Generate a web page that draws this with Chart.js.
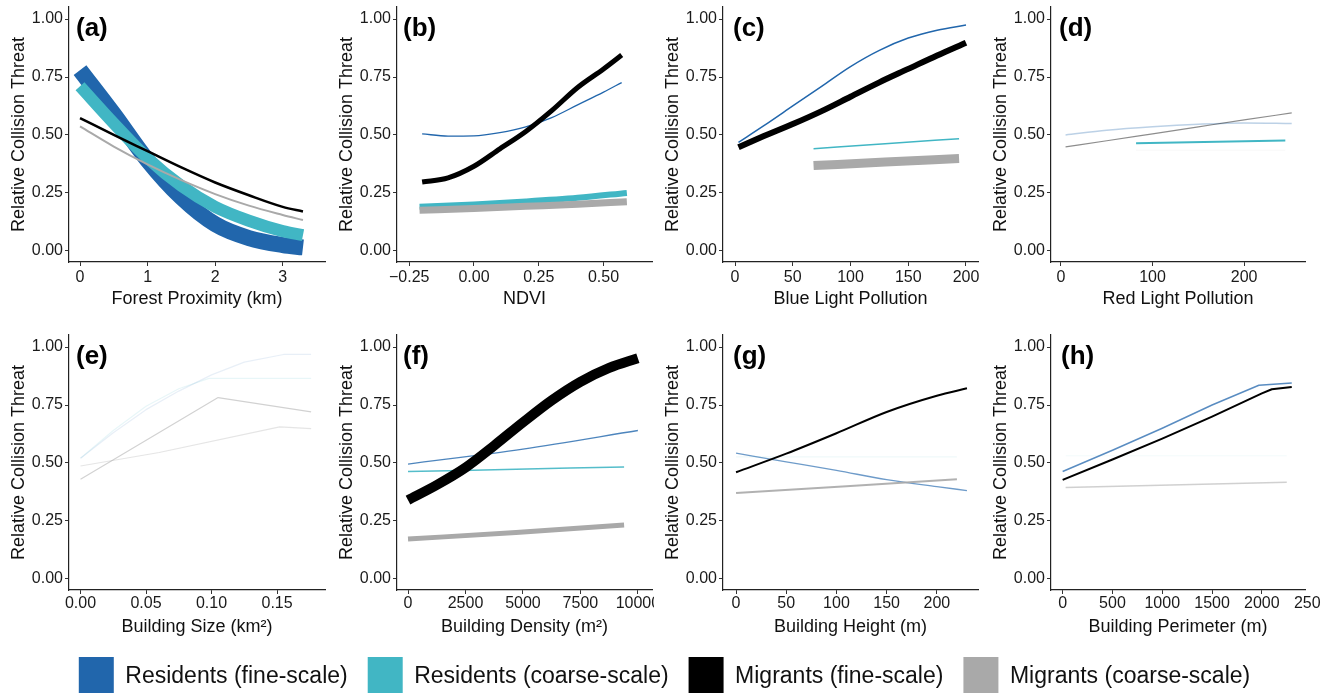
<!DOCTYPE html>
<html><head><meta charset="utf-8">
<script src="https://cdn.jsdelivr.net/npm/chart.js@4.4.1/dist/chart.umd.min.js"></script>
<style>
html,body{margin:0;padding:0;background:#fff;width:1323px;height:693px;overflow:hidden;position:relative}
canvas{position:absolute}
</style></head><body>
<script>
// shared y axis + legend
const Y_TICKS=[0,0.25,0.5,0.75,1];
const Y_LABELS=['0.00','0.25','0.50','0.75','1.00'];
const SERIES=['Residents (fine-scale)','Residents (coarse-scale)','Migrants (fine-scale)','Migrants (coarse-scale)'];

// (a) forest proximity
const aX=[0,0.5,1,1.5,2,2.5,3,3.3];
const aResFine=[0.78,0.59,0.39,0.23,0.115,0.055,0.025,0.015];
const aResCoarse=[0.71,0.55,0.40,0.28,0.19,0.13,0.085,0.068];
const aMigFine=[0.573,0.50,0.43,0.36,0.295,0.24,0.19,0.17];
const aMigCoarse=[0.537,0.45,0.373,0.305,0.245,0.195,0.155,0.133];
const aTicks=[0,1,2,3], aTickLabels=['0','1','2','3'];

// (b) NDVI
const bXFine=[-0.2,-0.1,0,0.1,0.2,0.3,0.4,0.5,0.57];
const bXCoarse=[-0.21,0,0.2,0.4,0.59];
const bResFine=[0.505,0.495,0.496,0.51,0.535,0.575,0.63,0.685,0.726];
const bMigFine=[0.297,0.315,0.365,0.44,0.515,0.605,0.705,0.785,0.845];
const bResCoarse=[0.19,0.20,0.213,0.229,0.25];
const bMigCoarse=[0.175,0.183,0.192,0.201,0.212];
const bTicks=[-0.25,0,0.25,0.5], bTickLabels=['\u22120.25','0.00','0.25','0.50'];

// (c) blue light
const cXFine=[3,25,50,75,100,125,150,175,200];
const cXCoarse=[68,130,194];
const cResFine=[0.468,0.54,0.625,0.71,0.795,0.865,0.918,0.952,0.974];
const cMigFine=[0.447,0.495,0.547,0.603,0.665,0.727,0.785,0.843,0.898];
const cResCoarse=[0.441,0.462,0.484];
const cMigCoarse=[0.368,0.383,0.398];
const cTicks=[0,50,100,150,200], cTickLabels=['0','50','100','150','200'];

// (d) red light
const dXFine=[5,50,100,150,200,252];
const dXCoarse=[82,245];
const dResFine=[0.50,0.52,0.535,0.546,0.552,0.549];
const dMigFine=[0.449,0.475,0.505,0.535,0.565,0.595];
const dResCoarse=[0.464,0.476];
const dMigCoarse=[0.434,0.434];
const dTicks=[0,100,200], dTickLabels=['0','100','200'];

// (e) building size
const eXResFine=[0,0.025,0.05,0.075,0.1,0.125,0.155,0.176];
const eResFine=[0.52,0.63,0.73,0.81,0.88,0.935,0.968,0.968];
const eXResCoarse=[0,0.025,0.05,0.075,0.098,0.176];
const eResCoarse=[0.52,0.64,0.745,0.82,0.865,0.865];
const eXMigFine=[0,0.105,0.176];
const eMigFine=[0.43,0.782,0.72];
const eXMigCoarse=[0,0.06,0.152,0.176];
const eMigCoarse=[0.487,0.545,0.656,0.648];
const eTicks=[0,0.05,0.1,0.15], eTickLabels=['0.00','0.05','0.10','0.15'];

// (f) building density
const fXFine=[0,1250,2500,3750,5000,6250,7500,8750,10000];
const fMigFine=[0.34,0.405,0.48,0.575,0.675,0.77,0.85,0.91,0.952];
const fXResFine=[0,5000,10000];
const fResFine=[0.495,0.56,0.64];
const fXCoarse=[0,4700,9400];
const fResCoarse=[0.463,0.473,0.483];
const fMigCoarse=[0.172,0.20,0.232];
const fTicks=[0,2500,5000,7500,10000], fTickLabels=['0','2500','5000','7500','10000'];

// (g) building height
const gXFine=[0,50,100,150,200,230];
const gMigFine=[0.46,0.54,0.628,0.72,0.79,0.822];
const gResFine=[0.542,0.505,0.468,0.428,0.398,0.381];
const gXCoarse=[0,220];
const gResCoarse=[0.526,0.526];
const gMigCoarse=[0.37,0.43];
const gTicks=[0,50,100,150,200], gTickLabels=['0','50','100','150','200'];

// (h) building perimeter
const hXResFine=[0,500,1000,1500,1970,2300];
const hResFine=[0.463,0.555,0.65,0.75,0.835,0.845];
const hXMigFine=[0,500,1000,1500,2000,2100,2300];
const hMigFine=[0.427,0.515,0.605,0.70,0.80,0.818,0.828];
const hXCoarse=[30,2250];
const hResCoarse=[0.531,0.531];
const hMigCoarse=[0.394,0.417];
const hTicks=[0,500,1000,1500,2000,2500], hTickLabels=['0','500','1000','1500','2000','2500'];

const COLORS=['#2166ac','#41b6c4','#000000','#a9a9a9'];
const FONT="'Liberation Sans', Arial, sans-serif";
Chart.defaults.font.family=FONT;

// [xs, ys, series, lineWidth, alpha]
const panels=[
 {tag:'(a)',dx:7,title:'Forest Proximity (km)',min:-0.163,max:3.626,ticks:aTicks,labels:aTickLabels,smooth:true,
  lines:[[aX,aResFine,0,16,1],[aX,aResCoarse,1,12,1],[aX,aMigFine,2,2.5,1],[aX,aMigCoarse,3,2,1]]},
 {tag:'(b)',dx:6,title:'NDVI',min:-0.297,max:0.687,ticks:bTicks,labels:bTickLabels,smooth:true,
  lines:[[bXFine,bResFine,0,1.3,1],[bXCoarse,bResCoarse,1,6,1],[bXFine,bMigFine,2,5,1],[bXCoarse,bMigCoarse,3,7,1]]},
 {tag:'(c)',dx:10,title:'Blue Light Pollution',min:-10.4,max:210.4,ticks:cTicks,labels:cTickLabels,smooth:true,
  lines:[[cXFine,cResFine,0,1.5,1],[cXCoarse,cResCoarse,1,1.5,1],[cXFine,cMigFine,2,6,1],[cXCoarse,cMigCoarse,3,9,1]]},
 {tag:'(d)',dx:8,title:'Red Light Pollution',min:-10.9,max:266.5,ticks:dTicks,labels:dTickLabels,smooth:true,
  lines:[[dXFine,dResFine,0,1.5,0.3],[dXCoarse,dResCoarse,1,2,1],[dXFine,dMigFine,2,1.2,0.45],[dXCoarse,dMigCoarse,3,1.5,0.06]]},
 {tag:'(e)',dx:7,title:'Building Size (km\u00b2)',min:-0.0088,max:0.1866,ticks:eTicks,labels:eTickLabels,smooth:false,
  lines:[[eXResFine,eResFine,0,1.2,0.1],[eXResCoarse,eResCoarse,1,1.2,0.12],[eXMigFine,eMigFine,2,1.2,0.18],[eXMigCoarse,eMigCoarse,3,1.2,0.3]]},
 {tag:'(f)',dx:6,title:'Building Density (m\u00b2)',min:-479,max:10614,ticks:fTicks,labels:fTickLabels,smooth:true,
  lines:[[fXResFine,fResFine,0,1.3,0.8],[fXCoarse,fResCoarse,1,1.5,0.9],[fXFine,fMigFine,2,10,1],[fXCoarse,fMigCoarse,3,5,1]]},
 {tag:'(g)',dx:10,title:'Building Height (m)',min:-13,max:241,ticks:gTicks,labels:gTickLabels,smooth:true,
  lines:[[gXFine,gResFine,0,1.3,0.65],[gXCoarse,gResCoarse,1,1.2,0.08],[gXFine,gMigFine,2,2,1],[gXCoarse,gMigCoarse,3,2,0.9]]},
 {tag:'(h)',dx:10,title:'Building Perimeter (m)',min:-117,max:2433,ticks:hTicks,labels:hTickLabels,smooth:false,
  lines:[[hXResFine,hResFine,0,1.5,0.75],[hXCoarse,hResCoarse,1,1,0.06],[hXMigFine,hMigFine,2,2,1],[hXCoarse,hMigCoarse,3,1.5,0.55]]}
];

// second column is cut a little short so the last density label clips like the original
const COL_LEFT=[0,328,654,982], COL_W=[329,326,328,339], COL_PADR=[4,2,4,16];
const ROW_TOP=[0,328], ROW_TICKPAD=[2,0];
const Y_W=69, X_H=48, PANEL_H=310;

function rgba(hex,a){const n=parseInt(hex.slice(1),16);return `rgba(${n>>16},${(n>>8)&255},${n&255},${a})`;}
// stop overflowing tick labels from shrinking the plot area
function noPad(s){s.paddingLeft=s.paddingRight=s.paddingTop=s.paddingBottom=0;}

const tagPlugin={id:'tag',afterDraw(c,args,o){
  const {ctx,chartArea:a}=c;
  ctx.save();ctx.font='bold 26px '+FONT;ctx.fillStyle='#000';ctx.textBaseline='middle';ctx.textAlign='left';
  ctx.fillText(o.text,a.left+o.dx,a.top+22);ctx.restore();
}};

function addCanvas(l,t,w,h){const c=document.createElement('canvas');c.width=w;c.height=h;c.style.left=l+'px';c.style.top=t+'px';c.style.width=w+'px';c.style.height=h+'px';document.body.appendChild(c);return c;}

panels.forEach((p,i)=>{
  const col=i%4,row=Math.floor(i/4);
  const cv=addCanvas(COL_LEFT[col],ROW_TOP[row],COL_W[col],PANEL_H);
  new Chart(cv.getContext('2d'),{
    type:'line',
    data:{datasets:p.lines.map(([xs,ys,s,w,a])=>({
      label:SERIES[s],data:xs.map((x,k)=>({x,y:ys[k]})),
      borderColor:rgba(COLORS[s],a),borderWidth:w,pointRadius:0,fill:false,
      borderCapStyle:'butt',borderJoinStyle:'round',
      cubicInterpolationMode:p.smooth?'monotone':'default',tension:0,order:4-s
    }))},
    options:{
      responsive:false,animation:false,devicePixelRatio:1,
      layout:{autoPadding:false,padding:{top:7,right:COL_PADR[col],left:0,bottom:0}},
      plugins:{legend:{display:false},tooltip:{enabled:false},tag:{text:p.tag,dx:p.dx}},
      scales:{
        x:{type:'linear',min:p.min,max:p.max,
          afterBuildTicks:s=>{s.ticks=p.ticks.map(v=>({value:v}));},
          afterFit:s=>{s.height=X_H;noPad(s);},
          ticks:{callback:(v,k)=>p.labels[k],color:'#1a1a1a',font:{size:16},padding:ROW_TICKPAD[row],maxRotation:0,autoSkip:false},
          grid:{display:true,drawOnChartArea:false,tickLength:4,tickWidth:1,
            tickColor:c=>(c.tick&&c.tick.value>p.max)?'rgba(0,0,0,0)':'#333'},
          border:{display:true,color:'#222',width:1.2},
          title:{display:true,text:p.title,color:'#111',font:{size:18},padding:{top:0,bottom:0}}},
        y:{type:'linear',min:-0.048,max:1.052,
          afterBuildTicks:s=>{s.ticks=Y_TICKS.map(v=>({value:v}));},
          afterFit:s=>{s.width=Y_W;noPad(s);},
          ticks:{callback:(v,k)=>Y_LABELS[k],color:'#1a1a1a',font:{size:16},padding:2,autoSkip:false},
          grid:{display:true,drawOnChartArea:false,tickLength:4,tickWidth:1,tickColor:'#333'},
          border:{display:true,color:'#222',width:1.2},
          title:{display:true,text:'Relative Collision Threat',color:'#111',font:{size:18},padding:{top:8,bottom:0}}}
      }
    },
    plugins:[tagPlugin]
  });
});

// legend strip along the bottom (runs past the window edge, boxes get cut like the original)
const lg=addCanvas(0,637,1323,160);
new Chart(lg.getContext('2d'),{
  type:'bar',
  data:{labels:[],datasets:SERIES.map((s,i)=>({label:s,data:[],backgroundColor:COLORS[i],borderWidth:0}))},
  options:{responsive:false,animation:false,devicePixelRatio:1,
    layout:{padding:{left:6}},
    plugins:{tooltip:{enabled:false},
      legend:{display:true,position:'top',align:'center',maxHeight:120,onClick:null,
        labels:{boxWidth:35,boxHeight:40,padding:20,color:'#111',font:{size:23}}}},
    scales:{x:{display:false},y:{display:false}}}
});
</script>
</body></html>
